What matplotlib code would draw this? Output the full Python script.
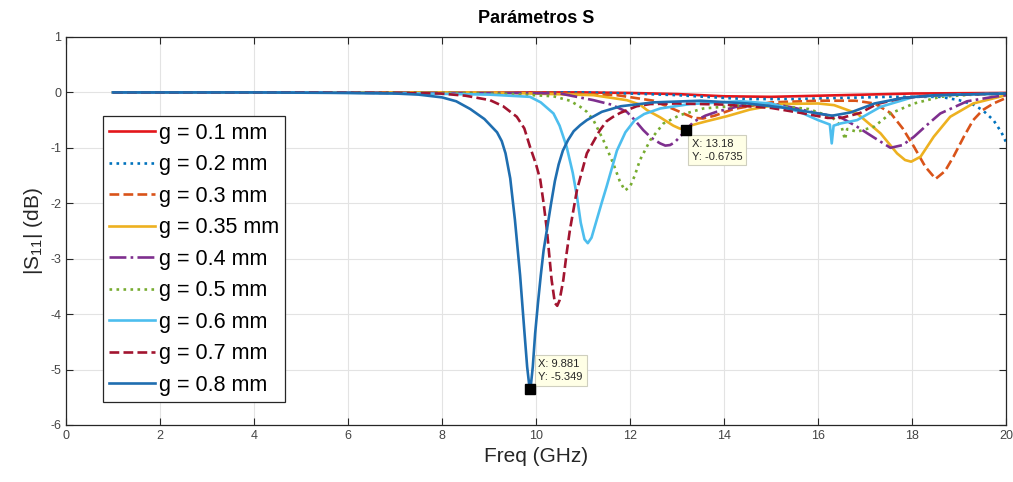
import numpy as np
import matplotlib.pyplot as plt

plt.rcParams['font.family'] = ['Liberation Sans', 'DejaVu Sans']
plt.rcParams['axes.unicode_minus'] = False

# Curvas: frecuencia (GHz) y |S11| (dB)
f1 = [1, 5, 11, 12, 13, 14, 15, 16, 17, 18, 20]
s1 = [0, 0, 0, -0.01, -0.03, -0.07, -0.08, -0.06, -0.04, -0.02, -0.01]

f2 = [1, 5, 11, 12, 13, 14, 14.5, 15.5, 16.5, 17.5, 18.6, 19.0, 19.3, 19.5, 19.73, 19.9, 20]
s2 = [0, 0, 0, -0.02, -0.05, -0.1, -0.12, -0.12, -0.1, -0.08, -0.08, -0.14, -0.22, -0.32, -0.5, -0.72, -0.9]

f3 = [1, 5, 10, 11.72, 12.5, 13.03, 13.35, 13.55, 13.8, 14.2, 15, 16, 16.8, 17.2, 17.54, 17.8,
      18.04, 18.28, 18.5, 18.7, 18.88, 19.1, 19.3, 19.5, 19.73, 20]
s3 = [0, 0, 0, -0.05, -0.15, -0.34, -0.46, -0.47, -0.42, -0.3, -0.18, -0.15, -0.15, -0.2, -0.37, -0.65,
      -0.98, -1.34, -1.56, -1.42, -1.16, -0.8, -0.5, -0.32, -0.2, -0.1]

f35 = [1, 5, 9, 11.22, 11.93, 12.21, 12.36, 12.64, 12.92, 13.05, 13.18, 13.28, 13.45, 13.63, 14.06,
       14.55, 15.19, 16.0, 16.34, 16.83, 17.33, 17.68, 17.85, 17.98, 18.18, 18.46, 18.81, 19.3, 20]
s35 = [0, 0, 0, -0.05, -0.14, -0.22, -0.32, -0.45, -0.6, -0.65, -0.6735, -0.6, -0.56, -0.52, -0.43,
       -0.31, -0.21, -0.2, -0.23, -0.38, -0.74, -1.1, -1.22, -1.25, -1.16, -0.8, -0.44, -0.2, -0.05]

f4 = [1, 5, 8, 9.5, 10.51, 11.22, 11.6, 11.93, 12.1, 12.28, 12.45, 12.64, 12.75, 12.85, 12.95, 13.06,
      13.2, 13.35, 13.6, 13.84, 14.4, 15, 15.5, 16, 16.48, 16.83, 17.2, 17.54, 17.8, 18.04, 18.3,
      18.6, 19.17, 19.73, 20]
s4 = [0, 0, -0.01, -0.01, -0.02, -0.14, -0.22, -0.35, -0.5, -0.68, -0.82, -0.92, -0.96, -0.95, -0.9, -0.8,
      -0.67, -0.53, -0.42, -0.35, -0.23, -0.2, -0.28, -0.38, -0.45, -0.62, -0.82, -1.0, -0.95, -0.8, -0.6,
      -0.38, -0.16, -0.08, -0.05]

f5 = [1, 5, 8, 9.5, 10.37, 10.72, 10.94, 11.08, 11.22, 11.43, 11.65, 11.78, 11.89, 12.0, 12.1, 12.21,
      12.43, 12.71, 13.06, 13.56, 14.4, 15, 15.8, 16.3, 16.5, 16.57, 16.62, 16.83, 17.19, 17.54, 18.04,
      18.6, 19.3, 20]
s5 = [0, 0, -0.01, -0.03, -0.07, -0.15, -0.26, -0.35, -0.5, -0.86, -1.3, -1.6, -1.77, -1.7, -1.5, -1.22,
      -0.86, -0.56, -0.41, -0.29, -0.23, -0.23, -0.3, -0.45, -0.62, -0.85, -0.66, -0.71, -0.62, -0.38, -0.2,
      -0.08, -0.04, -0.02]

f6 = [1, 5, 7.5, 9, 9.87, 10.1, 10.37, 10.5, 10.65, 10.78, 10.87, 10.95, 11.03, 11.1, 11.18, 11.29, 11.4,
      11.5, 11.72, 11.9, 12.1, 12.3, 12.64, 13.28, 14.34, 15, 15.6, 16.0, 16.25, 16.29, 16.33, 16.48, 16.83,
      17.33, 18.04, 19, 20]
s6 = [0, 0, -0.02, -0.04, -0.08, -0.18, -0.38, -0.6, -0.98, -1.45, -1.88, -2.35, -2.65, -2.72, -2.62, -2.3, -1.98,
      -1.7, -1.05, -0.72, -0.5, -0.39, -0.29, -0.21, -0.16, -0.2, -0.35, -0.5, -0.58, -0.92, -0.6, -0.56, -0.5,
      -0.26, -0.08, -0.04, -0.02]

f7 = [1, 5, 7, 7.96, 8.5, 9.02, 9.3, 9.59, 9.75, 9.87, 10.0, 10.09, 10.16, 10.23, 10.33, 10.4, 10.45, 10.5,
      10.58, 10.65, 10.72, 10.87, 11.08, 11.36, 11.5, 11.64, 11.79, 12.14, 12.43, 13, 14, 15, 15.7, 16.2,
      16.5, 16.9, 17.25, 17.8, 18.5, 20]
s7 = [0, 0, -0.01, -0.02, -0.06, -0.14, -0.25, -0.44, -0.65, -0.98, -1.3, -1.58, -2.0, -2.48, -3.38, -3.8, -3.85, -3.75,
      -3.38, -2.9, -2.48, -1.76, -1.1, -0.68, -0.52, -0.44, -0.37, -0.25, -0.21, -0.2, -0.22, -0.28, -0.38, -0.46,
      -0.46, -0.37, -0.21, -0.1, -0.05, -0.02]

f8 = [1, 4, 6, 7, 7.5, 8, 8.3, 8.6, 8.9, 9.17, 9.27, 9.35, 9.45, 9.55, 9.66, 9.75, 9.81, 9.85, 9.881, 9.93,
      9.98, 10.04, 10.1, 10.16, 10.23, 10.32, 10.4, 10.48, 10.57, 10.68, 10.8, 10.94, 11.08, 11.4, 11.8, 12.5,
      13.5, 14.5, 15.3, 16.0, 16.3, 16.7, 17.2, 17.8, 18.5, 19.5, 20]
s8 = [0, 0, -0.01, -0.02, -0.04, -0.09, -0.16, -0.3, -0.48, -0.72, -0.88, -1.1, -1.55, -2.3, -3.3, -4.3, -4.95, -5.25, -5.349, -4.95,
      -4.35, -3.8, -3.3, -2.85, -2.48, -2.0, -1.6, -1.3, -1.05, -0.86, -0.7, -0.59, -0.5, -0.35, -0.25, -0.18,
      -0.15, -0.2, -0.28, -0.38, -0.42, -0.36, -0.2, -0.1, -0.05, -0.03, -0.02]

etiquetas = ['g = 0.1 mm', 'g = 0.2 mm', 'g = 0.3 mm', 'g = 0.35 mm', 'g = 0.4 mm',
             'g = 0.5 mm', 'g = 0.6 mm', 'g = 0.7 mm', 'g = 0.8 mm']
curvas = [(f1, s1), (f2, s2), (f3, s3), (f35, s35), (f4, s4), (f5, s5), (f6, s6), (f7, s7), (f8, s8)]
colores = ['#E3161B', '#0072BD', '#D95319', '#EDB120', '#7E2F8E', '#77AC30', '#4DBEEE', '#A2142F', '#1F6EB0']
estilos = ['-', ':', '--', '-', '-.', ':', '-', '--', '-']

# datatips
tips = [(9.881, -5.349), (13.18, -0.6735)]

fig = plt.figure(figsize=(10.13, 4.82), dpi=100)
ax = fig.add_axes([0.0652, 0.1183, 0.928, 0.805])

for (x, y), lab, c, ls in zip(curvas, etiquetas, colores, estilos):
    ax.plot(x, y, ls, color=c, lw=1.9, label=lab)

ax.set_xlim(0, 20)
ax.set_ylim(-6, 1)
ax.set_xticks(np.arange(0, 21, 2))
ax.set_yticks(np.arange(-6, 2, 1))
ax.grid(True, color='#e3e3e3', lw=0.8)
ax.set_axisbelow(True)
ax.tick_params(direction='in', top=True, right=True, length=5, labelsize=9,
               labelcolor='#444444', color='#262626')
for sp in ax.spines.values():
    sp.set_color('#262626')
    sp.set_linewidth(0.9)

ax.set_title('Parámetros S', fontsize=13, fontweight='bold', pad=10)
ax.set_xlabel('Freq (GHz)', fontsize=15, color='#262626')
ax.set_ylabel('|S$_{\\mathregular{11}}$| (dB)', fontsize=15, color='#262626', labelpad=4)

leg = ax.legend(loc='upper left', bbox_to_anchor=(0.039, 0.796), borderaxespad=0,
                fontsize=15.5, handlelength=2.15, handletextpad=0.15, labelspacing=0.49,
                borderpad=0.3, fancybox=False, framealpha=1, edgecolor='#262626')
leg.get_frame().set_linewidth(0.9)

desp = [((8, 7), 'bottom'), ((6, -9), 'top')]
for (xt, yt), (off, va) in zip(tips, desp):
    ax.plot(xt, yt, 's', color='black', ms=7, zorder=5)
    ax.annotate('X: %g\nY: %g' % (xt, yt), (xt, yt), xytext=off, textcoords='offset pixels',
                ha='left', va=va, fontsize=8, color='#262626', linespacing=1.35,
                bbox=dict(boxstyle='square,pad=0.35', fc='#FFFFE6', ec='#cfcfbf', lw=0.8))

fig.savefig('out.png', dpi=100)
